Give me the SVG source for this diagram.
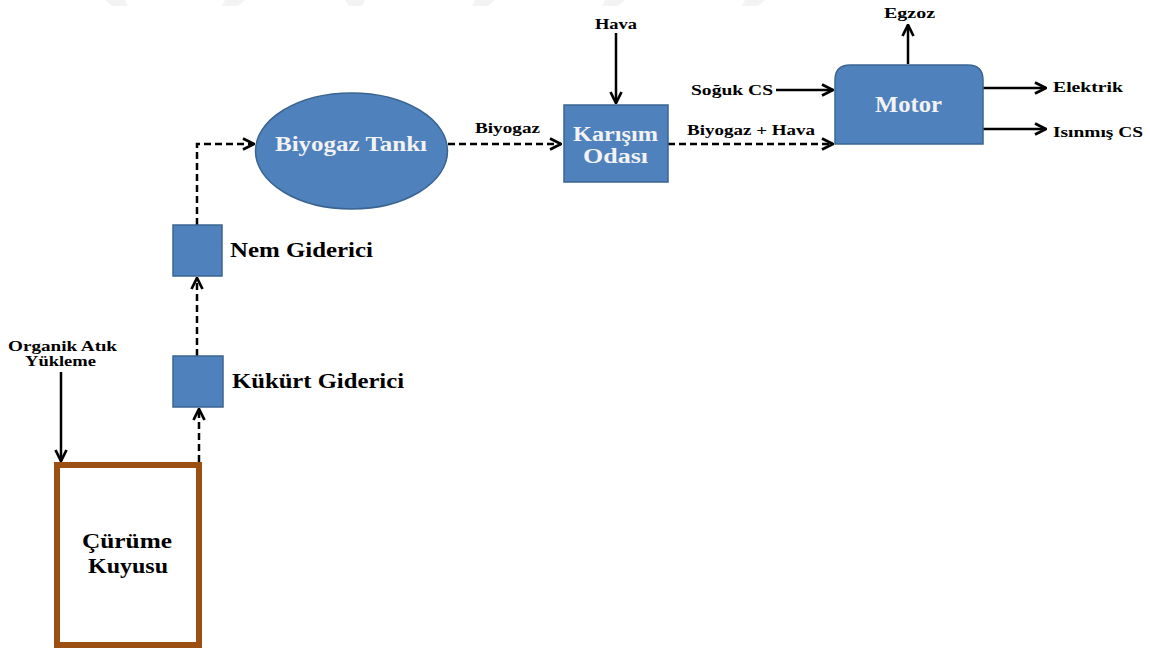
<svg xmlns="http://www.w3.org/2000/svg" width="1150" height="650" viewBox="0 0 1150 650">
<defs>
<style>
.lbl{font-family:"Liberation Serif","DejaVu Serif",serif;font-weight:bold;fill:#000}
.wt{font-family:"Liberation Serif","DejaVu Serif",serif;font-weight:bold;fill:#f2f2f2}
.box{fill:#4f81bd;stroke:#3a6591;stroke-width:1.5}
.solid{stroke:#000;stroke-width:2.5;fill:none}
.dash{stroke:#000;stroke-width:2.5;fill:none;stroke-dasharray:7,4}
.wm{fill:#f3f3f3}
</style>
<marker id="ah" viewBox="0 0 10 10" refX="9" refY="5" markerWidth="5.5" markerHeight="5.5" orient="auto" markerUnits="strokeWidth">
<path d="M1,1 L9,5 L1,9" fill="none" stroke="#000" stroke-width="2"/>
</marker>
</defs>
<rect width="1150" height="650" fill="#fff"/>
<g id="watermark">
<polygon class="wm" points="105,0 125,0 128,6 112,6"/>
<polygon class="wm" points="225,0 245,0 238,6 222,6"/>
<polygon class="wm" points="345,0 365,0 362,6 349,6"/>
<polygon class="wm" points="475,0 495,0 488,6 472,6"/>
<polygon class="wm" points="605,0 625,0 618,6 602,6"/>
<polygon class="wm" points="745,0 765,0 758,6 742,6"/>
</g>
<g id="connectors">
<line class="solid" x1="61" y1="372" x2="61" y2="461" marker-end="url(#ah)"/>
<line class="dash" x1="199" y1="462" x2="199" y2="409" marker-end="url(#ah)"/>
<line class="dash" x1="197" y1="356" x2="197" y2="278" marker-end="url(#ah)"/>
<polyline class="dash" points="197,225 197,144 254,144" marker-end="url(#ah)"/>
<line class="dash" x1="448" y1="144" x2="561" y2="144" marker-end="url(#ah)"/>
<line class="solid" x1="616" y1="33" x2="616" y2="103" marker-end="url(#ah)"/>
<line class="dash" x1="668" y1="144" x2="833" y2="144" marker-end="url(#ah)"/>
<line class="solid" x1="776" y1="90" x2="833" y2="90" marker-end="url(#ah)"/>
<line class="solid" x1="908" y1="64" x2="908" y2="25" marker-end="url(#ah)"/>
<line class="solid" x1="983" y1="88" x2="1046" y2="88" marker-end="url(#ah)"/>
<line class="solid" x1="983" y1="129" x2="1046" y2="129" marker-end="url(#ah)"/>
<text class="lbl" x="8" y="351" font-size="15" textLength="109" lengthAdjust="spacingAndGlyphs">Organik Atık</text>
<text class="lbl" x="25" y="366" font-size="15" textLength="71" lengthAdjust="spacingAndGlyphs">Yükleme</text>
<text class="lbl" x="475" y="133" font-size="15" textLength="65" lengthAdjust="spacingAndGlyphs">Biyogaz</text>
<text class="lbl" x="595" y="29" font-size="15" textLength="42" lengthAdjust="spacingAndGlyphs">Hava</text>
<text class="lbl" x="687" y="135" font-size="15" textLength="128" lengthAdjust="spacingAndGlyphs">Biyogaz + Hava</text>
<text class="lbl" x="691" y="95" font-size="15" textLength="82" lengthAdjust="spacingAndGlyphs">Soğuk CS</text>
<text class="lbl" x="884" y="18" font-size="15" textLength="51" lengthAdjust="spacingAndGlyphs">Egzoz</text>
<text class="lbl" x="1053" y="92" font-size="15" textLength="70" lengthAdjust="spacingAndGlyphs">Elektrik</text>
<text class="lbl" x="1053" y="137" font-size="15" textLength="90" lengthAdjust="spacingAndGlyphs">Isınmış CS</text>
</g>
<g id="curume">
<rect x="57" y="465" width="142" height="180" fill="#fff" stroke="#9c4f13" stroke-width="6"/>
<text class="lbl" x="82" y="548" font-size="21" textLength="90" lengthAdjust="spacingAndGlyphs">Çürüme</text>
<text class="lbl" x="88" y="573" font-size="21" textLength="80" lengthAdjust="spacingAndGlyphs">Kuyusu</text>
</g>
<g id="kukurt">
<rect class="box" x="173" y="356" width="50" height="51"/>
<text class="lbl" x="232" y="388" font-size="22" textLength="172" lengthAdjust="spacingAndGlyphs">Kükürt Giderici</text>
</g>
<g id="nem">
<rect class="box" x="173" y="225" width="49" height="51"/>
<text class="lbl" x="230" y="257" font-size="22" textLength="143" lengthAdjust="spacingAndGlyphs">Nem Giderici</text>
</g>
<g id="tank">
<ellipse class="box" cx="351.5" cy="151" rx="96" ry="58"/>
<text class="wt" x="275" y="151" font-size="22" textLength="152" lengthAdjust="spacingAndGlyphs">Biyogaz Tankı</text>
</g>
<g id="karisim">
<rect class="box" x="564" y="105" width="104" height="77"/>
<text class="wt" x="573" y="141" font-size="20" textLength="85" lengthAdjust="spacingAndGlyphs">Karışım</text>
<text class="wt" x="583" y="163" font-size="20" textLength="65" lengthAdjust="spacingAndGlyphs">Odası</text>
</g>
<g id="motor">
<path class="box" d="M835,144 L835,80 Q835,65 850,65 L968,65 Q983,65 983,80 L983,144 Z"/>
<text class="wt" x="875" y="112" font-size="24" textLength="67" lengthAdjust="spacingAndGlyphs">Motor</text>
</g>
</svg>
